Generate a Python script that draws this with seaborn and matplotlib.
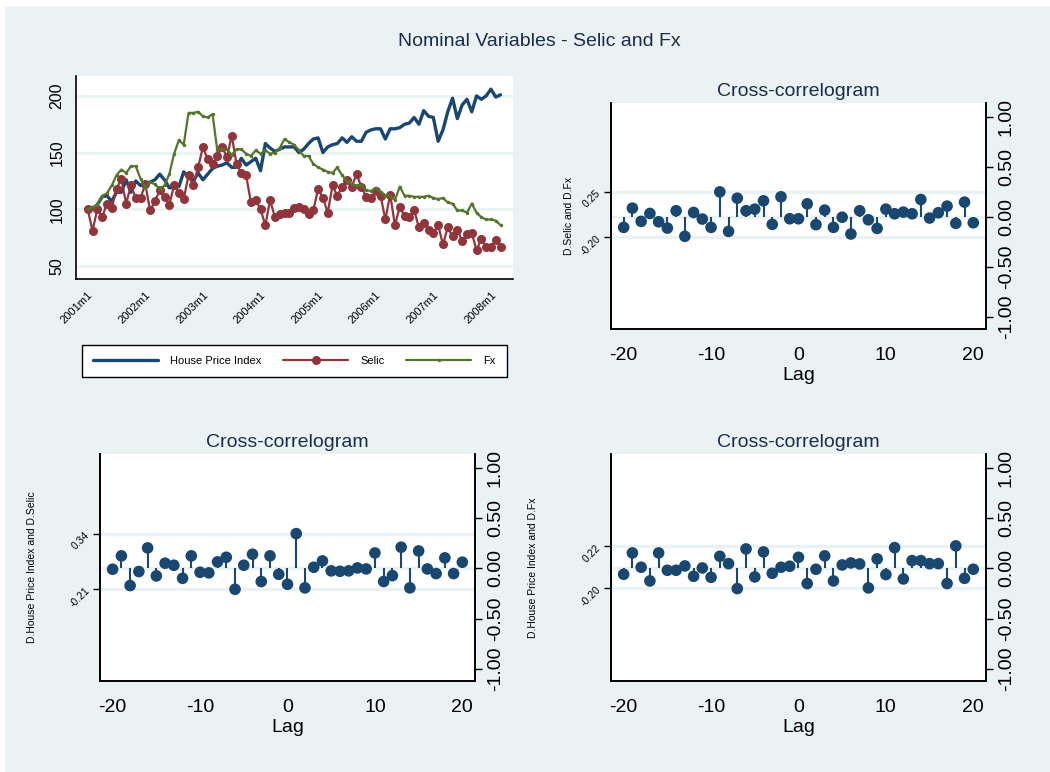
import numpy as np
import pandas as pd
import matplotlib.pyplot as plt
import matplotlib.patches as mpatches
import seaborn as sns

# monthly series, 2001m1 .. 2008m3 (index 2001m1 = 100)
house_price = [100, 100, 104, 111, 112, 107, 115, 115, 126, 115, 125, 121,
               122, 124, 126, 131, 126, 119, 119, 120, 133, 128, 125, 132,
               126, 131, 136, 138, 139, 141, 137, 137, 145, 139, 142, 145,
               134, 158, 154, 151, 153, 155, 155, 155, 150, 153, 158, 162,
               163, 150, 155, 157, 158, 163, 159, 164, 160, 160, 168, 170,
               171, 171, 162, 171, 171, 172, 175, 176, 181, 175, 187, 182,
               181, 160, 170, 186, 198, 180, 192, 197, 186, 200, 197, 200,
               206, 199, 201]
selic = [100, 81, 100, 93, 105, 101, 118, 127, 105, 121, 110, 110,
         122, 99, 107, 117, 111, 104, 121, 114, 109, 130, 121, 137,
         155, 144, 140, 147, 155, 146, 165, 140, 132, 130, 106, 108,
         100, 86, 108, 93, 96, 97, 97, 101, 102, 100, 96, 99,
         118, 110, 97, 121, 112, 120, 126, 120, 131, 120, 111, 110,
         116, 112, 91, 113, 86, 102, 94, 93, 99, 84, 88, 82,
         79, 86, 69, 84, 76, 82, 72, 78, 79, 64, 74, 67,
         67, 73, 67]
fx = [100, 102, 104, 112, 114, 121, 130, 135, 132, 138, 138, 127,
      119, 124, 122, 118, 121, 131, 149, 161, 157, 185, 185, 186,
      182, 181, 184, 152, 153, 153, 148, 153, 153, 149, 147, 152,
      149, 152, 149, 150, 154, 162, 159, 157, 152, 147, 147, 140,
      137, 135, 133, 132, 137, 130, 125, 122, 121, 121, 117, 116,
      119, 115, 112, 112, 108, 120, 112, 112, 111, 111, 111, 112,
      110, 109, 110, 106, 105, 99, 99, 97, 105, 97, 93, 91,
      91, 90, 86]
year_labels = ['2001m1', '2002m1', '2003m1', '2004m1', '2005m1', '2006m1', '2007m1', '2008m1']

lags = list(range(-20, 21))
cc_selic_fx = [-0.106, 0.086, -0.046, 0.033, -0.05, -0.113, 0.06, -0.195, 0.043, -0.023,
               -0.106, 0.248, -0.146, 0.185, 0.06, 0.076, 0.159, -0.076, 0.199, -0.02,
               -0.02, 0.129, -0.079, 0.066, -0.106, -0.005, -0.172, 0.06, -0.03, -0.116,
               0.076, 0.03, 0.046, 0.03, 0.172, -0.013, 0.04, 0.106, -0.066, 0.146, -0.06]
cc_hpi_selic = [-0.01, 0.123, -0.172, -0.033, 0.202, -0.076, 0.05, 0.03, -0.1, 0.123,
                -0.04, -0.046, 0.063, 0.109, -0.209, 0.03, 0.139, -0.132, 0.123, -0.06,
                -0.159, 0.344, -0.195, 0.01, 0.073, -0.026, -0.03, -0.026, 0.003, -0.007,
                0.152, -0.132, -0.073, 0.209, -0.195, 0.172, -0.007, -0.053, 0.103, -0.053, 0.06]
cc_hpi_fx = [-0.06, 0.152, 0.01, -0.126, 0.152, -0.02, -0.02, 0.023, -0.08, 0.003,
             -0.09, 0.119, 0.046, -0.202, 0.192, -0.086, 0.162, -0.05, 0.01, 0.02,
             0.109, -0.152, -0.01, 0.123, -0.126, 0.033, 0.053, 0.043, -0.195, 0.093,
             -0.063, 0.205, -0.106, 0.076, 0.076, 0.046, 0.046, -0.152, 0.222, -0.1, -0.01]

sns.set_style('white')
plt.rcParams['font.family'] = ['Liberation Sans', 'DejaVu Sans']

BG = '#eaf2f3'
NAVY = '#1a476f'
MAROON = '#90353b'
GREEN = '#55752f'

fig = plt.figure(figsize=(10.5, 7.72), dpi=100, facecolor='white')
fig.patches.append(mpatches.Rectangle((5 / 1050, 0), 1, 1 - 7 / 772,
                                      transform=fig.transFigure, color=BG, zorder=-10))
fig.text(0.514, 0.946, 'Nominal Variables - Selic and Fx', ha='center', va='center',
         fontsize=14, color='#1c2b4f')

# ---- time series panel ----
ts = pd.DataFrame({'t': np.arange(len(house_price)),
                   'House Price Index': house_price, 'Selic': selic, 'Fx': fx})
ax = fig.add_axes([0.0721, 0.6386, 0.4165, 0.263])
for y in [50, 100, 150, 200]:
    ax.axhline(y, color=BG, lw=2, zorder=0)
sns.lineplot(data=ts, x='t', y='House Price Index', ax=ax, color=NAVY, lw=2.4,
             label='House Price Index')
sns.lineplot(data=ts, x='t', y='Selic', ax=ax, color=MAROON, lw=1.6, marker='o',
             markersize=6.5, markeredgewidth=0, label='Selic')
sns.lineplot(data=ts, x='t', y='Fx', ax=ax, color=GREEN, lw=1.6, marker='o',
             markersize=2.5, markeredgewidth=0, label='Fx')
ax.set_xlim(-2.5, 88.6)
ax.set_ylim(38.5, 217.6)
ax.set_xticks(np.arange(0, 85, 12))
ax.set_xticklabels(year_labels, rotation=45, ha='right', rotation_mode='anchor',
                   fontsize=8, color='black')
ax.set_yticks([50, 100, 150, 200])
ax.set_yticklabels(['50', '100', '150', '200'], rotation=90, va='center',
                   fontsize=11.5, color='black')
ax.set_xlabel('')
ax.set_ylabel('')
ax.tick_params(axis='both', direction='out', length=5, width=1, color='black', pad=3)
for s in ['top', 'right']:
    ax.spines[s].set_visible(False)
for s in ['left', 'bottom']:
    ax.spines[s].set_color('black')
    ax.spines[s].set_linewidth(1.2)
leg = ax.legend(loc='center', bbox_to_anchor=(82 / 1050, 1 - 379 / 772, 425 / 1050, 36 / 772),
                bbox_transform=fig.transFigure, ncol=3, mode='expand', fontsize=8,
                frameon=True, fancybox=False, framealpha=1, edgecolor='black',
                handlelength=5.85, handletextpad=1.1, borderaxespad=0, borderpad=1.0)
leg.get_frame().set_linewidth(1)
for t in leg.get_texts():
    t.set_color('black')


def correlogram(rect, values, ref_hi, ref_lo, ylabel, label_x):
    cax = fig.add_axes(rect)
    cc = pd.DataFrame({'Lag': lags, 'r': values})
    for y in [ref_hi, 0, ref_lo]:
        cax.axhline(y, color=BG, lw=2.5, zorder=0)
    cax.vlines(cc['Lag'], 0, cc['r'], color=NAVY, lw=1.5, zorder=2)
    sns.scatterplot(data=cc, x='Lag', y='r', ax=cax, color=NAVY, s=70,
                    edgecolor='none', zorder=3)
    cax.set_xlim(-21.45, 21.45)
    cax.set_ylim(-1.12, 1.135)
    cax.set_xticks([-20, -10, 0, 10, 20])
    cax.set_xticklabels(['-20', '-10', '0', '10', '20'], fontsize=14, color='black')
    cax.set_xlabel('Lag', fontsize=14, labelpad=2, color='black')
    cax.set_yticks([ref_hi, ref_lo])
    cax.set_yticklabels([f'{ref_hi:.2f}', f'{ref_lo:.2f}'], rotation=45, fontsize=7.5,
                        ha='right', va='center', rotation_mode='anchor', color='black')
    cax.set_ylabel(ylabel, fontsize=7.5, color='black')
    cax.yaxis.set_label_coords(label_x, 0.5)
    cax.tick_params(axis='x', direction='out', length=5, width=1, color='black', pad=8)
    cax.tick_params(axis='y', direction='out', length=5, width=1, color='black')
    rax = cax.twinx()
    rax.set_ylim(-1.12, 1.135)
    rax.set_yticks([-1, -0.5, 0, 0.5, 1])
    rax.set_yticklabels(['-1.00', '-0.50', '0.00', '0.50', '1.00'], rotation=90,
                        va='center', fontsize=14, color='black')
    rax.tick_params(axis='y', direction='out', length=5, width=1, color='black')
    for a in (cax, rax):
        a.spines['top'].set_visible(False)
        for s in ['left', 'right', 'bottom']:
            a.spines[s].set_color('black')
            a.spines[s].set_linewidth(1.2)
    cax.set_title('Cross-correlogram', fontsize=14, color='#1c2b4f', pad=5)
    return cax


correlogram([0.5819, 0.5738, 0.3571, 0.2928], cc_selic_fx, 0.25, -0.20,
            'D.Selic and D.Fx', -0.099)
correlogram([0.0952, 0.1179, 0.3572, 0.294], cc_hpi_selic, 0.34, -0.21,
            'D.House Price Index and D.Selic', -0.168)
correlogram([0.5819, 0.1179, 0.3571, 0.294], cc_hpi_fx, 0.22, -0.20,
            'D.House Price Index and D.Fx', -0.195)

fig.savefig('out.png', dpi=100, facecolor=fig.get_facecolor())
